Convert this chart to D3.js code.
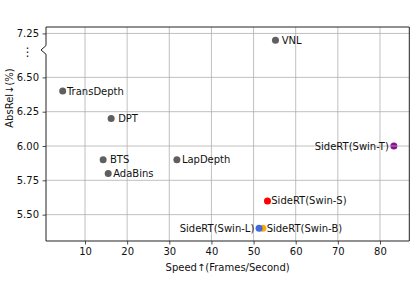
<!DOCTYPE html>
<html>
<head>
<meta charset="utf-8">
<script src="https://cdn.jsdelivr.net/npm/d3@7"></script>
<style>
  body { margin: 0; background: #fff; }
  svg { display: block; font-family: 'DejaVu Sans', sans-serif; }
</style>
</head>
<body>
<figure id="chart" style="margin:0"></figure>
<script>
// data
const methods = ['TransDepth', 'DPT', 'BTS', 'AdaBins', 'LapDepth', 'VNL',
  'SideRT(Swin-T)', 'SideRT(Swin-S)', 'SideRT(Swin-B)', 'SideRT(Swin-L)'];
const speed = [4.7, 16.2, 14.3, 15.5, 31.8, 55.2, 83.3, 53.3, 52.2, 51.3];
const absRel = [6.4, 6.2, 5.9, 5.8, 5.9, 7.2, 6.0, 5.6, 5.4, 5.4];

const xTicks = [10, 20, 30, 40, 50, 60, 70, 80];
const yTicks = [5.5, 5.75, 6.0, 6.25, 6.5, 7.25];

// styling per point
const pointColors = ['#5f5f5f', '#5f5f5f', '#5f5f5f', '#5f5f5f', '#5f5f5f', '#5f5f5f',
  '#8c0d96', '#ff0000', '#ffa500', '#4169e1'];
const labelAnchor = ['start', 'start', 'start', 'start', 'start', 'start',
  'end', 'start', 'start', 'end'];
const labelDx = [4.3, 7, 6.8, 5, 5, 6.3, -5, 3.8, 3.8, -4.7];

const width = 415, height = 294;
const margin = { left: 46, right: 5.7, top: 27, bottom: 53 };

// the axis is broken above 6.5: higher values are pulled down by this shift
const breakShift = 0.43;
const breakAt = 6.7;
const shown = (v) => (v > 6.6 ? v - breakShift : v);

const x = d3.scaleLinear()
  .domain([0.74, 86.96])
  .range([margin.left, width - margin.right]);
const y = d3.scaleLinear()
  .domain([5.308, 6.867])
  .range([height - margin.bottom, margin.top]);

const svg = d3.select('#chart').append('svg')
  .attr('width', width)
  .attr('height', height);

const idx = d3.range(methods.length);

// points (grid sits above them, like the original)
svg.append('g')
  .selectAll('circle')
  .data(idx)
  .enter()
  .append('circle')
  .attr('cx', (i) => x(speed[i]))
  .attr('cy', (i) => y(shown(absRel[i])))
  .attr('r', 3.5)
  .attr('fill', (i) => pointColors[i]);

// grid
const grid = svg.append('g').attr('stroke', '#b0b0b0').attr('stroke-width', 0.8);
grid.selectAll('.gx')
  .data(xTicks)
  .enter()
  .append('line')
  .attr('x1', (d) => x(d)).attr('x2', (d) => x(d))
  .attr('y1', margin.top).attr('y2', height - margin.bottom);
grid.selectAll('.gy')
  .data(yTicks)
  .enter()
  .append('line')
  .attr('y1', (d) => y(shown(d))).attr('y2', (d) => y(shown(d)))
  .attr('x1', margin.left).attr('x2', width - margin.right);

// point labels
svg.append('g')
  .selectAll('text')
  .data(idx)
  .enter()
  .append('text')
  .attr('x', (i) => x(speed[i]) + labelDx[i])
  .attr('y', (i) => y(shown(absRel[i])))
  .attr('dominant-baseline', 'central')
  .attr('text-anchor', (i) => labelAnchor[i])
  .attr('font-size', 10)
  .attr('fill', '#111')
  .text((i) => methods[i]);

// axes
const xAxis = d3.axisBottom(x).tickValues(xTicks).tickSize(3.5).tickPadding(3.5)
  .tickFormat(d3.format('d'));
const yAxis = d3.axisLeft(y).tickValues(yTicks.map(shown)).tickSize(3.5).tickPadding(3.5)
  .tickFormat((d, i) => d3.format('.2f')(yTicks[i]));

const gx = svg.append('g')
  .attr('transform', 'translate(0,' + (height - margin.bottom) + ')')
  .call(xAxis);
const gy = svg.append('g')
  .attr('transform', 'translate(' + margin.left + ',0)')
  .call(yAxis);
[gx, gy].forEach((g) => {
  g.select('.domain').remove();
  g.selectAll('text').attr('font-size', 10).attr('fill', '#111')
    .attr('font-family', 'DejaVu Sans, sans-serif');
  g.selectAll('line').attr('stroke', '#222').attr('stroke-width', 0.8);
});

// frame with the break notch on the left spine
const yb = y(breakAt);
const x0 = margin.left, x1 = width - margin.right;
const y0 = margin.top, y1 = height - margin.bottom;
svg.append('path')
  .attr('d', 'M' + x0 + ',' + y0 + 'H' + x1 + 'V' + y1 + 'H' + x0 +
    'V' + (yb + 4.3) + 'L' + (x0 - 5) + ',' + yb + 'L' + x0 + ',' + (yb - 4.3) + 'Z')
  .attr('fill', 'none')
  .attr('stroke', '#222')
  .attr('stroke-width', 1);

svg.append('text')
  .attr('x', 27.7)
  .attr('y', yb + 2.5)
  .attr('text-anchor', 'middle')
  .attr('dominant-baseline', 'central')
  .attr('font-size', 12)
  .attr('fill', '#111')
  .text('⋮');

// axis titles
svg.append('text')
  .attr('x', (x0 + x1) / 2)
  .attr('y', 271)
  .attr('text-anchor', 'middle')
  .attr('font-size', 10)
  .attr('fill', '#111')
  .text('Speed↑(Frames/Second)');

svg.append('text')
  .attr('transform', 'translate(12.5,98) rotate(-90)')
  .attr('text-anchor', 'middle')
  .attr('font-size', 10)
  .attr('fill', '#111')
  .text('AbsRel↓(%)');
</script>
</body>
</html>
